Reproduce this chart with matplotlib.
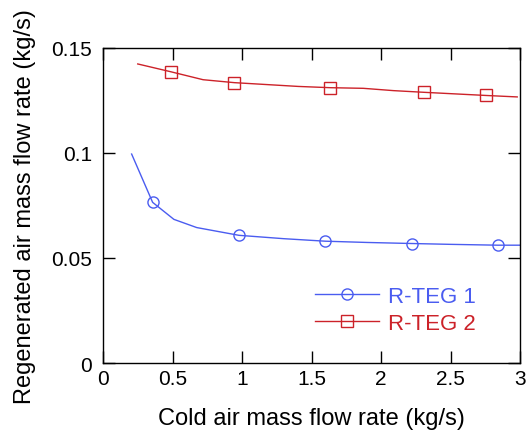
import matplotlib
matplotlib.use("Agg")
import matplotlib.pyplot as plt
from matplotlib.lines import Line2D

# R-TEG 1 (blue) smooth line and marker points
x1_line = [0.206, 0.357, 0.51, 0.674, 0.978, 1.3, 1.6, 1.9, 2.22, 2.5, 2.84, 3.0]
y1_line = [0.0995, 0.0765, 0.0684, 0.0645, 0.0608, 0.0592, 0.0580, 0.0574, 0.0569, 0.0565, 0.0561, 0.0561]
x1_mark = [0.357, 0.978, 1.6, 2.22, 2.84]
y1_mark = [0.0765, 0.0608, 0.0580, 0.0569, 0.0561]

# R-TEG 2 (red)
x2_line = [0.25, 0.487, 0.72, 0.945, 1.405, 1.635, 1.873, 2.09, 2.31, 2.755, 2.98]
y2_line = [0.1424, 0.1387, 0.1349, 0.1335, 0.1317, 0.1311, 0.1308, 0.1297, 0.1289, 0.1274, 0.1267]
x2_mark = [0.487, 0.945, 1.635, 2.31, 2.755]
y2_mark = [0.1387, 0.1335, 0.1311, 0.1289, 0.1274]

labels = ["R-TEG 1", "R-TEG 2"]
xticks = [0, 0.5, 1, 1.5, 2, 2.5, 3]
xticklabels = ["0", "0.5", "1", "1.5", "2", "2.5", "3"]
yticks = [0, 0.05, 0.1, 0.15]
yticklabels = ["0", "0.05", "0.1", "0.15"]

plt.rcParams['font.family'] = ['Liberation Sans', 'DejaVu Sans']

blue = "#4a5cf0"
red = "#cc2229"

fig = plt.figure(figsize=(5.28, 4.35), dpi=100)
ax = fig.add_axes([103/528, 1-364/435, (520-103)/528, (364-49)/435])

ax.plot(x1_line, y1_line, color=blue, lw=1.0)
ax.plot(x1_mark, y1_mark, ls='none', marker='o', ms=8, mfc='none', mec=blue, mew=1.0)
ax.plot(x2_line, y2_line, color=red, lw=1.0)
ax.plot(x2_mark, y2_mark, ls='none', marker='s', ms=8.3, mfc='none', mec=red, mew=1.0)

ax.set_xlim(0, 3)
ax.set_ylim(0, 0.15)
ax.set_xticks(xticks)
ax.set_xticklabels(xticklabels)
ax.set_yticks(yticks)
ax.set_yticklabels(yticklabels)
ax.tick_params(direction='in', length=8.5, width=1, top=True, right=True, labelsize=15, pad=4)
ax.tick_params(axis='y', pad=8)
for s in ax.spines.values():
    s.set_linewidth(1.0)

ax.set_xlabel("Cold air mass flow rate (kg/s)", fontsize=17, labelpad=14)
ax.set_ylabel("Regenerated air mass flow rate (kg/s)", fontsize=17, labelpad=11)

handles = [Line2D([], [], color=blue, lw=1.0, marker='o', ms=8, mfc='none', mec=blue),
           Line2D([], [], color=red, lw=1.0, marker='s', ms=8.3, mfc='none', mec=red)]
leg = ax.legend(handles, labels, loc='upper left', bbox_to_anchor=(0.508, 0.246), frameon=False,
                borderaxespad=0, borderpad=0,
                fontsize=16, handlelength=2.9, handletextpad=0.4, labelspacing=0.29)
for t, c in zip(leg.get_texts(), [blue, red]):
    t.set_color(c)

fig.savefig("out.png", dpi=100)
